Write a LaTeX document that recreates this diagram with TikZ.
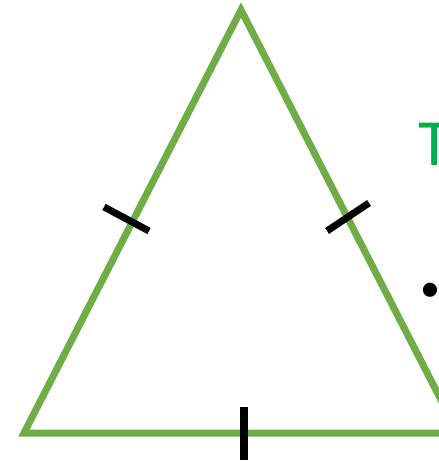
\documentclass[tikz,border=0pt]{standalone}
\usepackage{fontspec}
\setmainfont{Carlito}
\definecolor{sidegreen}{RGB}{112,173,71}
\definecolor{textgreen}{RGB}{0,176,80}

\begin{document}
\begin{tikzpicture}[x=1pt, y=-1pt,
	side/.style={draw=sidegreen, line width=7pt, line join=miter},
	tick/.style={draw=black, line width=7pt}]
	\useasboundingbox (0,0) rectangle (438,462);
	% vertices
	\coordinate (apex) at (241,10);
	\coordinate (left) at (24,433);
	\coordinate (right) at (458,433);
	\draw[side] (apex) -- (left) -- (right) -- cycle;
	% equal-side marks
	\coordinate (l1) at (104,207);
	\coordinate (l2) at (149,231);
	\coordinate (r1) at (327,231);
	\coordinate (r2) at (369,203);
	\coordinate (b1) at (244,407);
	\coordinate (b2) at (244,460);
	\draw[tick] (l1) -- (l2);
	\draw[tick] (r1) -- (r2);
	\draw[tick, line width=8pt] (b1) -- (b2);
	% cut-off text on the right
	\node[anchor=base west, inner sep=0pt, text=textgreen, font=\fontsize{66}{70}\selectfont] (title) at (418,166) {T};
	\node[anchor=center, inner sep=0pt, font=\fontsize{40}{44}\selectfont] (dot) at (430,292) {•};
\end{tikzpicture}
\end{document}
